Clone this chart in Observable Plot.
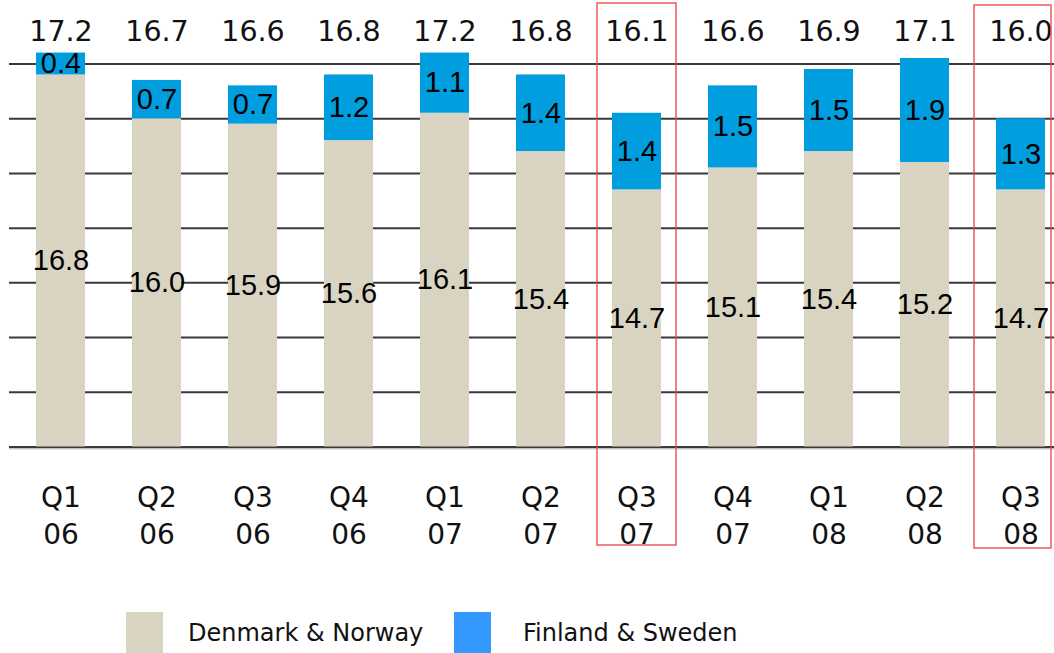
<!DOCTYPE html>
<html><head><meta charset="utf-8">
<script src="https://cdn.jsdelivr.net/npm/d3@7"></script>
<script src="https://cdn.jsdelivr.net/npm/@observablehq/plot@0.6"></script>
<style>
body{margin:0;background:#fff;width:1054px;height:653px;overflow:hidden;position:relative;font-family:"DejaVu Sans",sans-serif;}
#chart svg{display:block;}
.sw{position:absolute;top:612px;width:37px;height:44px;}
.lt{position:absolute;top:621px;font-family:"DejaVu Sans",sans-serif;font-size:24px;line-height:24px;color:#111;white-space:nowrap;}
</style></head><body>
<div id="chart"></div>
<div id="legend"></div>
<script>
const quarters = ["Q1","Q2","Q3","Q4","Q1","Q2","Q3","Q4","Q1","Q2","Q3"];
const years = ["06","06","06","06","07","07","07","07","08","08","08"];
const denmarkNorway = [16.8,16.0,15.9,15.6,16.1,15.4,14.7,15.1,15.4,15.2,14.7];
const finlandSweden = [0.4,0.7,0.7,1.2,1.1,1.4,1.4,1.5,1.5,1.9,1.3];
const totals = [17.2,16.7,16.6,16.8,17.2,16.8,16.1,16.6,16.9,17.1,16.0];
const yTicks = [10,11,12,13,14,15,16,17];
const seriesNames = ["Denmark & Norway","Finland & Sweden"];
const highlighted = ["Q3 07","Q3 08"];

const colors = {bar1:"#d9d4c2", bar2:"#009ddf", legend2:"#3399ff"};
const yMin = yTicks[0], yMax = yTicks[yTicks.length-1];

const rows = quarters.map((q,i)=>({
  key: q+" "+years[i], label: q+"\n"+years[i],
  dn: denmarkNorway[i], fs: finlandSweden[i], total: totals[i]
}));
const keys = rows.map(d=>d.key);
const fmt = v => v.toFixed(1);

const W = 1054, H = 560;
const plot = Plot.plot({
  width: W, height: H,
  marginLeft: 9, marginRight: 0, marginTop: 31, marginBottom: 46.5,
  x: {type:"band", domain: keys, range:[34,1047], paddingInner:0.492, paddingOuter:0, axis:null},
  y: {domain:[yMin,yMax], range:[446.5,63.5], axis:null},
  marks: [
    Plot.ruleY(yTicks, {stroke:"#3a3a3a", strokeWidth:2}),
    Plot.barY(rows, {x:"key", y1: d=>yMin, y2:"dn", fill: colors.bar1}),
    Plot.barY(rows, {x:"key", y1:"dn", y2: d=>d.dn+d.fs, fill: colors.bar2}),
    Plot.ruleY([yMin], {stroke:"#a8a8a8", strokeWidth:1, dy:1.8}),
    Plot.text(rows, {x:"key", y: d=>(yMin+d.dn)/2, text: d=>fmt(d.dn),
      fontFamily:"Liberation Sans", fontSize:29, fill:"#000"}),
    Plot.text(rows, {x:"key", y: d=>d.dn+d.fs/2, text: d=>fmt(d.fs),
      fontFamily:"Liberation Sans", fontSize:29, fill:"#000"}),
    Plot.text(rows, {x:"key", frameAnchor:"top", lineAnchor:"middle", text: d=>fmt(d.total),
      fontFamily:"DejaVu Sans", fontSize:28.5, fill:"#111"}),
    Plot.text(rows, {x:"key", frameAnchor:"bottom", lineAnchor:"middle", text:"label", lineHeight:1.32,
      fontFamily:"DejaVu Sans", fontSize:28, fill:"#111"}),
    Plot.cell(rows.filter(d=>d.key===highlighted[0]), {x:"key", fill:"none", stroke:"#f04040", strokeWidth:1.3,
      insetLeft:-15, insetRight:-15, insetTop:-28, insetBottom:-31.5}),
    Plot.cell(rows.filter(d=>d.key===highlighted[1]), {x:"key", fill:"none", stroke:"#f04040", strokeWidth:1.3,
      insetLeft:-22, insetRight:-6, insetTop:-26, insetBottom:-34.5})
  ]
});
document.getElementById("chart").appendChild(plot);

const legend = document.getElementById("legend");
const items = [
  {name: seriesNames[0], color: colors.bar1, sw: 126, tx: 188},
  {name: seriesNames[1], color: colors.legend2, sw: 454, tx: 523}
];
for (const it of items) {
  const s = document.createElement("div");
  s.className = "sw"; s.style.left = it.sw+"px"; s.style.background = it.color;
  legend.appendChild(s);
  const t = document.createElement("div");
  t.className = "lt"; t.style.left = it.tx+"px"; t.textContent = it.name;
  legend.appendChild(t);
}
</script>
</body></html>
